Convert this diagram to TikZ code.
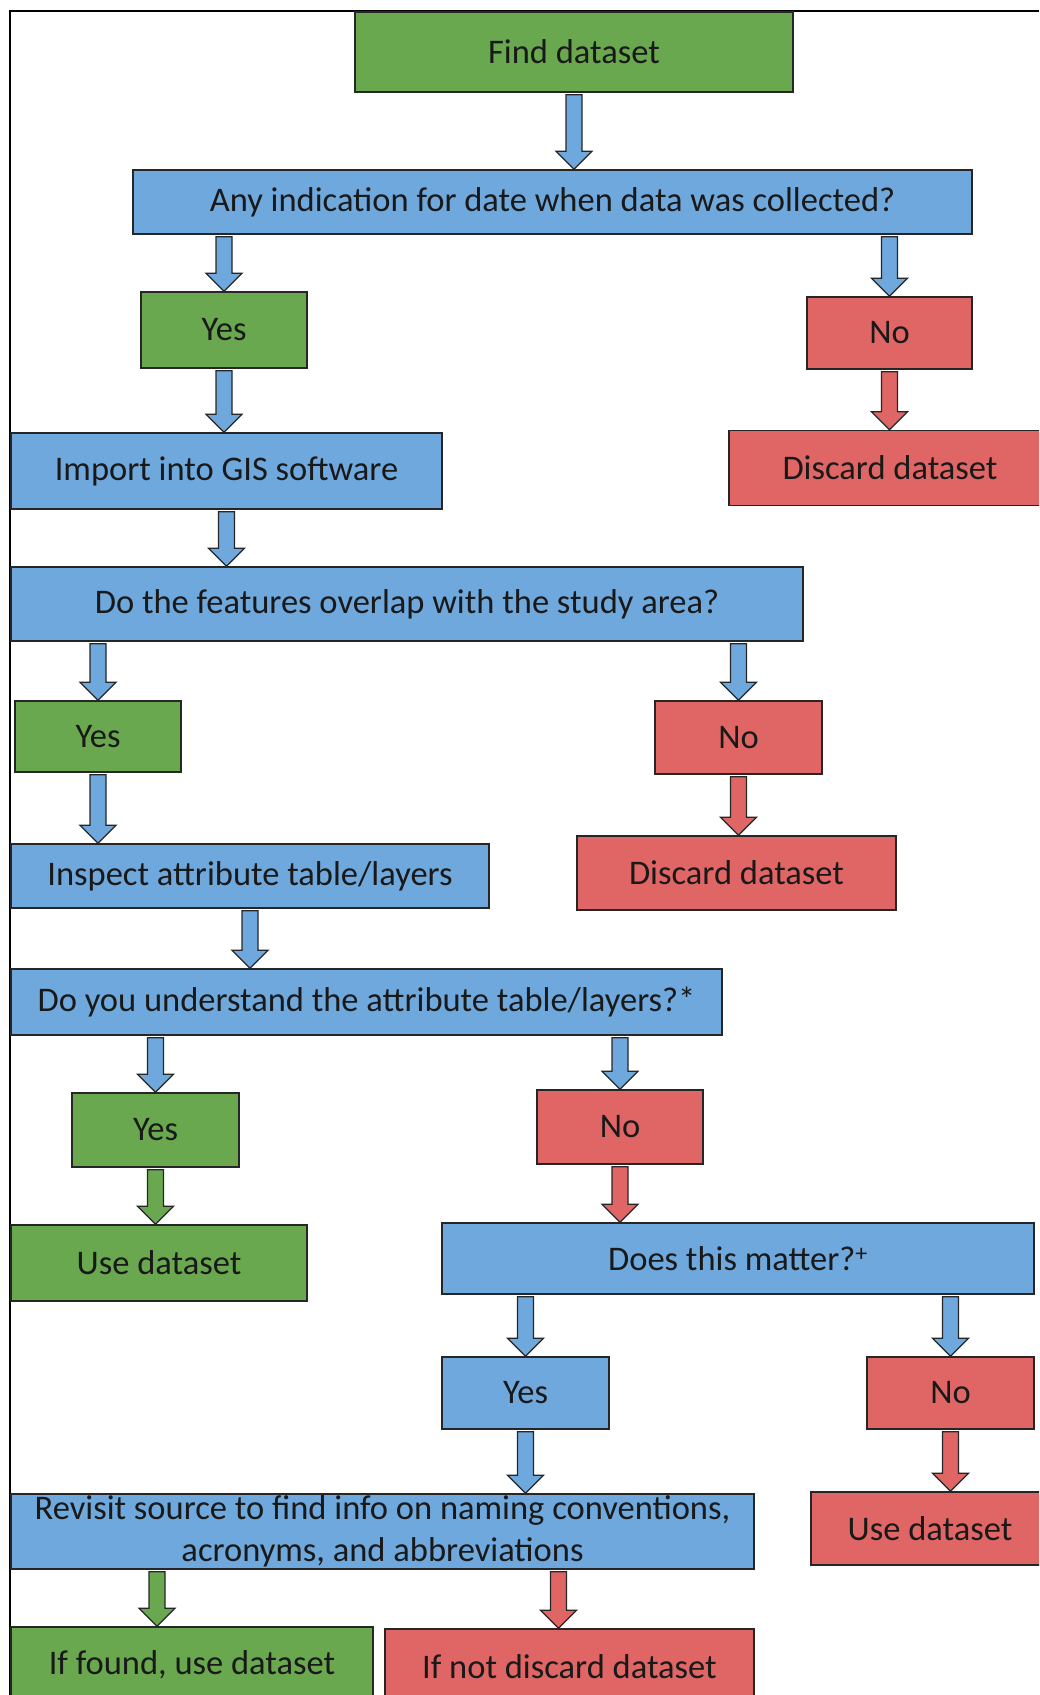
\documentclass[tikz,border=0pt]{standalone}
\usepackage{fontspec}
\setmainfont{Carlito}
\usepackage{tikz}
\usetikzlibrary{positioning, calc}
\definecolor{boxgreen}{HTML}{6AA84F}
\definecolor{boxblue}{HTML}{6FA8DC}
\definecolor{boxred}{HTML}{E06666}
\definecolor{edge}{HTML}{262626}
\tikzstyle{box} = [rectangle, draw=edge, line width=1.5pt, text=black!90, font=\fontsize{34.5}{42}\selectfont, align=center, inner sep=0pt]
\tikzstyle{greenbox} = [box, fill=boxgreen]
\tikzstyle{bluebox} = [box, fill=boxblue]
\tikzstyle{redbox} = [box, fill=boxred]
\tikzstyle{blockarrow} = [draw=edge, line width=1.2pt, to path={let \p1=(\tikztostart), \p2=(\tikztotarget) in (\x1-8pt,\y1-2pt) -- (\x1-8pt,\y2+18pt) -- (\x1-18pt,\y2+18pt) -- (\x1,\y2) -- (\x1+18pt,\y2+18pt) -- (\x1+8pt,\y2+18pt) -- (\x1+8pt,\y1-2pt) -- cycle}]

\begin{document}
\begin{tikzpicture}[x=1pt, y=-1pt]
    \useasboundingbox (0,0) rectangle (1039,1695);
    \clip (0,0) rectangle (1039,1695);

    % Frame
    \draw [line width=2pt] (9.5,1695) -- (9.5,10.5) -- (1039,10.5);

    % Start
    \node (find) [greenbox, minimum width=438pt, minimum height=80pt] at (574,52) {Find dataset};

    % Date check
    \node (any) [bluebox, minimum width=839pt, minimum height=64pt] at (552.5,202) {Any indication for date when data was collected?};
    \node (yes1) [greenbox, minimum width=166pt, minimum height=76pt] at (224,330) {Yes};
    \node (no1) [redbox, minimum width=165pt, minimum height=72pt] at (889.5,333) {No};
    \node (import) [bluebox, minimum width=431pt, minimum height=76pt] at (226.5,471) {Import into GIS software};
    \node (discard1) [redbox, minimum width=322pt, minimum height=75pt] at (890,468) {Discard dataset};

    % Overlap check
    \node (overlap) [bluebox, minimum width=792pt, minimum height=74pt] at (407,604) {Do the features overlap with the study area?};
    \node (yes2) [greenbox, minimum width=166pt, minimum height=71pt] at (98,736.5) {Yes};
    \node (no2) [redbox, minimum width=167pt, minimum height=73pt] at (738.5,737.5) {No};
    \node (inspect) [bluebox, minimum width=478pt, minimum height=64pt] at (250,876) {Inspect attribute table/layers};
    \node (discard2) [redbox, minimum width=319pt, minimum height=74pt] at (736.5,873) {Discard dataset};

    % Attribute check
    \node (understand) [bluebox, minimum width=711pt, minimum height=66pt] at (366.5,1002) {Do you understand the attribute table/layers?*};
    \node (yes3) [greenbox, minimum width=167pt, minimum height=74pt] at (155.5,1130) {Yes};
    \node (no3) [redbox, minimum width=166pt, minimum height=74pt] at (620,1127) {No};
    \node (use1) [greenbox, minimum width=296pt, minimum height=76pt] at (159,1263) {Use dataset};
    \node (matter) [bluebox, minimum width=592pt, minimum height=71pt] at (738,1258.5) {Does this matter?\textsuperscript{+}};
    \node (yes4) [bluebox, minimum width=167pt, minimum height=72pt] at (525.5,1393) {Yes};
    \node (no4) [redbox, minimum width=167pt, minimum height=72pt] at (950.5,1393) {No};

    % Revisit source
    \node (revisit) [bluebox, minimum width=743pt, minimum height=75pt] at (382.5,1531.5) {Revisit source to find info on naming conventions,\\acronyms, and abbreviations};
    \node (use2) [redbox, minimum width=238pt, minimum height=73pt] at (930,1528.5) {Use dataset};
    \node (found) [greenbox, minimum width=362pt, minimum height=76pt] at (192,1665) {If found, use dataset};
    \node (notfound) [redbox, minimum width=369pt, minimum height=76pt] at (569.5,1667) {If not discard dataset};

    % Arrows
    \draw [blockarrow, fill=boxblue] (find.south) to (any.north);
    \draw [blockarrow, fill=boxblue] (any.south -| yes1.north) to (yes1.north);
    \draw [blockarrow, fill=boxblue] (any.south -| no1.north) to (no1.north);
    \draw [blockarrow, fill=boxblue] (yes1.south) to (import.north);
    \draw [blockarrow, fill=boxred] (no1.south) to (discard1.north);
    \draw [blockarrow, fill=boxblue] (import.south) to (overlap.north);
    \draw [blockarrow, fill=boxblue] (overlap.south -| yes2.north) to (yes2.north);
    \draw [blockarrow, fill=boxblue] (overlap.south -| no2.north) to (no2.north);
    \draw [blockarrow, fill=boxblue] (yes2.south) to (inspect.north);
    \draw [blockarrow, fill=boxred] (no2.south) to (discard2.north);
    \draw [blockarrow, fill=boxblue] (inspect.south) to (understand.north);
    \draw [blockarrow, fill=boxblue] (understand.south -| yes3.north) to (yes3.north);
    \draw [blockarrow, fill=boxblue] (understand.south -| no3.north) to (no3.north);
    \draw [blockarrow, fill=boxgreen] (yes3.south) to (use1.north);
    \draw [blockarrow, fill=boxred] (no3.south) to (matter.north);
    \draw [blockarrow, fill=boxblue] (matter.south -| yes4.north) to (yes4.north);
    \draw [blockarrow, fill=boxblue] (matter.south -| no4.north) to (no4.north);
    \draw [blockarrow, fill=boxblue] (yes4.south) to (revisit.north);
    \draw [blockarrow, fill=boxred] (no4.south) to (use2.north);
    \draw [blockarrow, fill=boxgreen] ($(revisit.south -| found.north)+(-35,0)$) to (found.north);
    \draw [blockarrow, fill=boxred] ($(revisit.south -| notfound.north)+(-11,0)$) to (notfound.north);
\end{tikzpicture}
\end{document}
